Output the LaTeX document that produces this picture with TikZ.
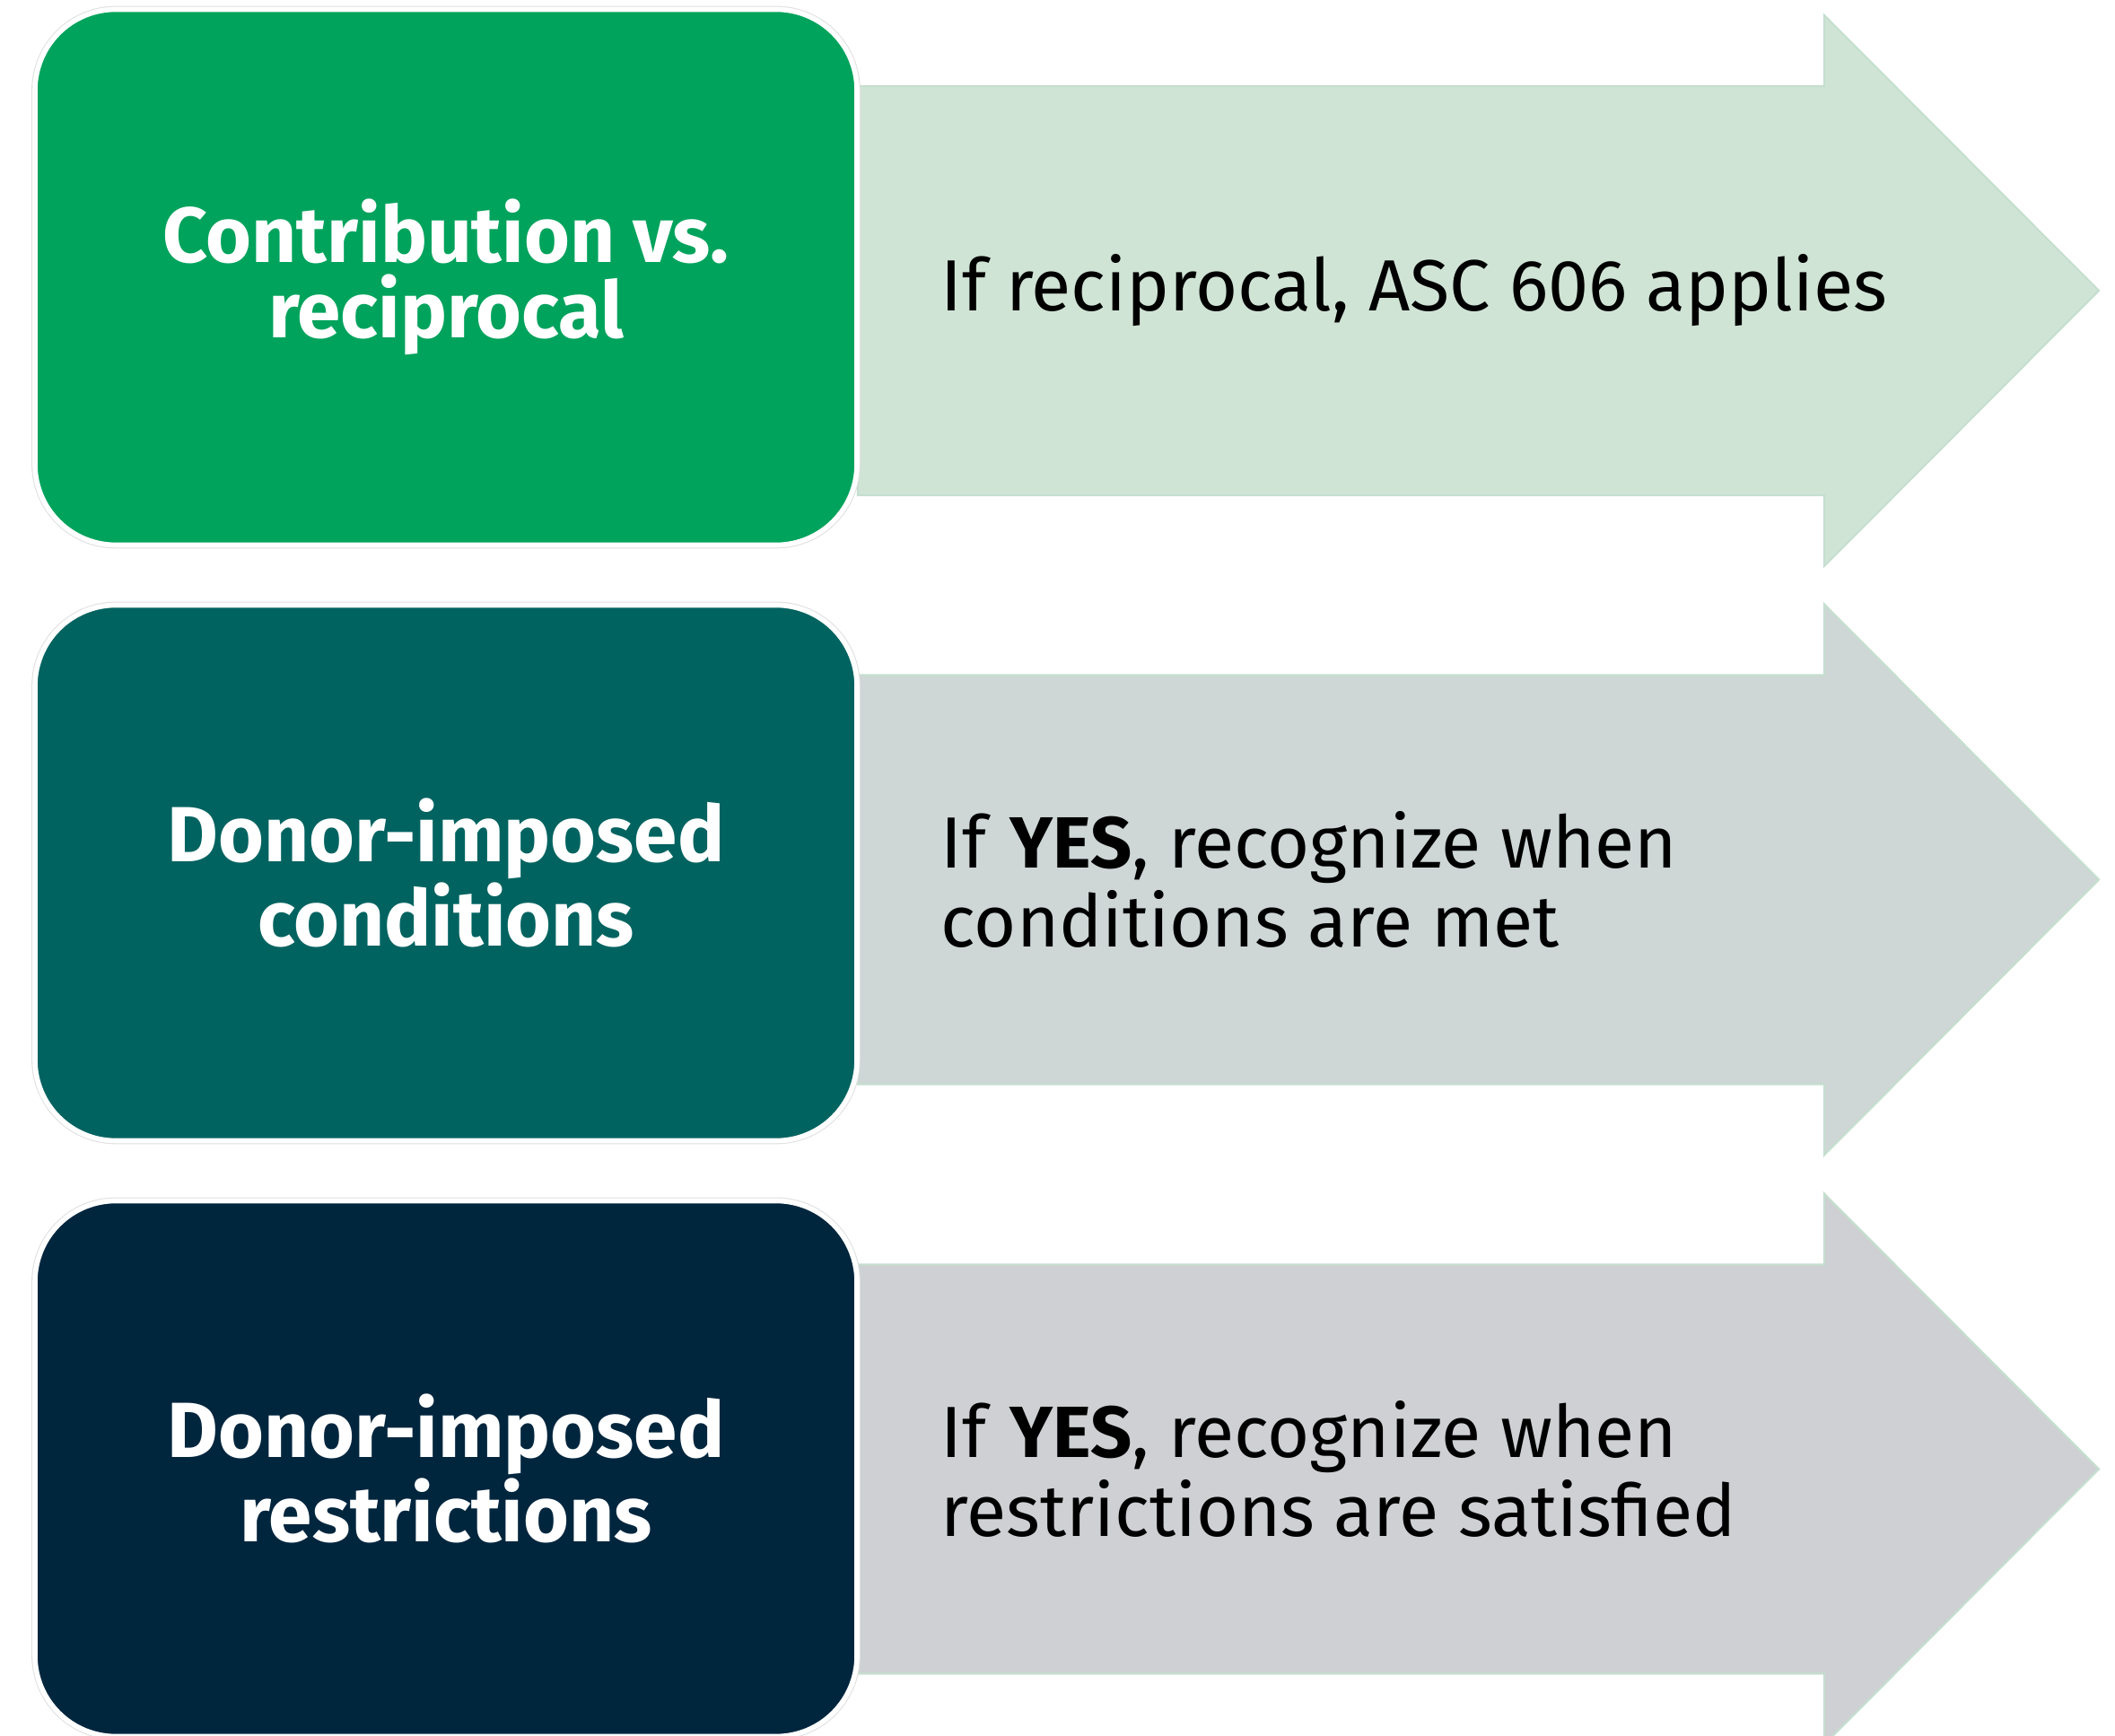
\documentclass[tikz,border=0pt]{standalone}
\usepackage{fontspec}
\setmainfont{Fira Sans}
\usetikzlibrary{positioning}
\definecolor{contribgreen}{HTML}{00A35C}
\definecolor{condteal}{HTML}{006360}
\definecolor{restrnavy}{HTML}{00263E}
\definecolor{greenfill}{HTML}{D0E4D6}
\definecolor{tealfill}{HTML}{CED6D6}
\definecolor{grayfill}{HTML}{CED0D3}
\definecolor{arrowline}{HTML}{C5DFCF}
\tikzstyle{header} = [rectangle, rounded corners=0.9cm, minimum width=9.16cm, minimum height=5.97cm, align=center, text=white, draw=white, line width=1.6pt, preaction={draw=black!12, line width=2.2pt}, font=\fontsize{24.8}{23.9}\selectfont\bfseries]
\tikzstyle{outcome} = [draw=arrowline, line width=0.6pt]
\tikzstyle{note} = [anchor=west, align=left, inner sep=0pt, font=\fontsize{23}{24.8}\selectfont]

\begin{document}
\begin{tikzpicture}[node distance=6.64cm]
	\useasboundingbox (0,0) rectangle (23.57,-19.35);
	% arrows behind the boxes
	\draw [outcome, fill=greenfill] (9.56,-0.96) -- (20.33,-0.96) -- (20.33,-0.17) -- (23.39,-3.24) -- (20.33,-6.31) -- (20.33,-5.52) -- (9.56,-5.52) -- cycle;
	\draw [outcome, fill=tealfill] (9.56,-7.525) -- (20.33,-7.525) -- (20.33,-6.735) -- (23.39,-9.805) -- (20.33,-12.875) -- (20.33,-12.085) -- (9.56,-12.085) -- cycle;
	\draw [outcome, fill=grayfill] (9.56,-14.095) -- (20.33,-14.095) -- (20.33,-13.305) -- (23.39,-16.375) -- (20.33,-19.445) -- (20.33,-18.655) -- (9.56,-18.655) -- cycle;
	\node (contrib) [header, fill=contribgreen] at (4.97,-3.09) {Contribution vs.\\reciprocal};
	\node (cond) [header, fill=condteal, below of=contrib] {Donor-imposed\\conditions};
	\node (restr) [header, fill=restrnavy, below of=cond] {Donor-imposed\\restrictions};
	\node (contribnote) [note] at (10.48,-3.24) {If reciprocal, ASC 606 applies};
	\node (condnote) [note] at (10.48,-9.805) {If \textbf{YES}, recognize when\\conditions are met};
	\node (restrnote) [note] at (10.48,-16.375) {If \textbf{YES}, recognize when\\restrictions are satisfied};
\end{tikzpicture}
\end{document}
